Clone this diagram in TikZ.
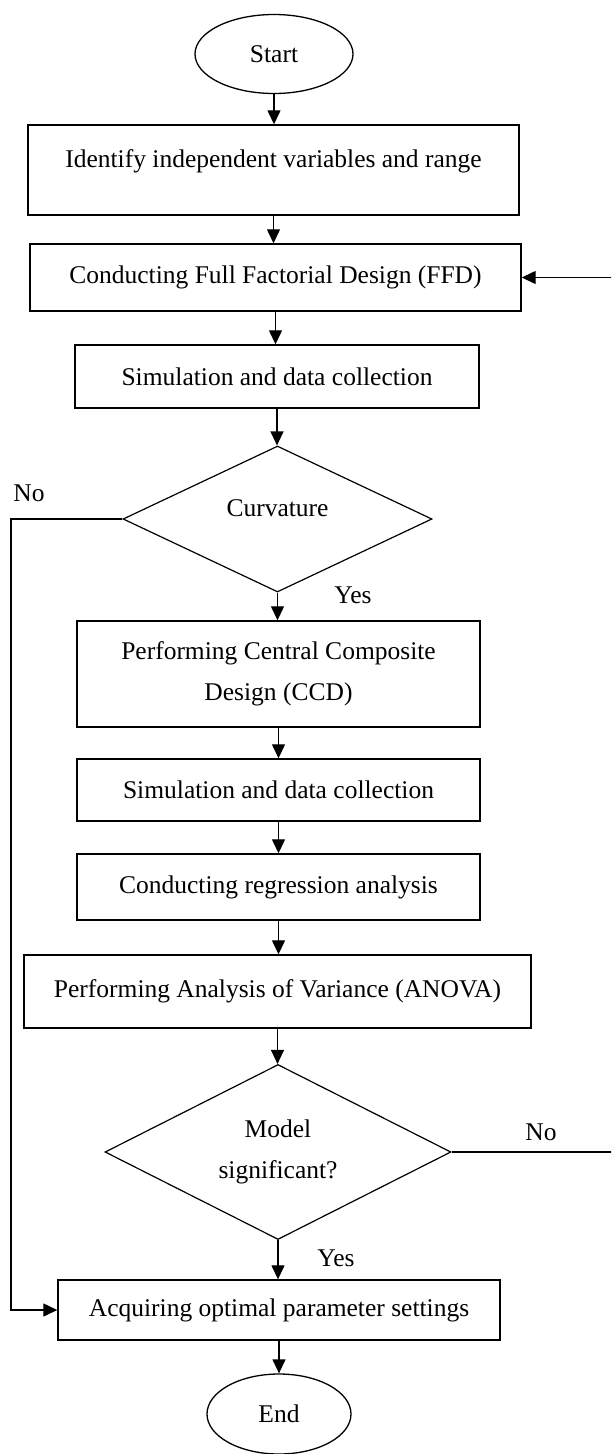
\documentclass[tikz,border=0pt]{standalone}
\usepackage{fontspec}
\setmainfont{Liberation Serif}
\usetikzlibrary{shapes.geometric,arrows.meta}
\begin{document}
\begin{tikzpicture}[x=1pt,y=-1pt,
  every node/.style={font=\fontsize{25.5}{41}\selectfont},
  proc/.style={draw, line width=1.4pt, rectangle, inner sep=0pt, align=center},
  term/.style={draw, line width=1.3pt, ellipse, inner sep=0pt},
  dec/.style={draw, line width=1.2pt, diamond, aspect=2, inner sep=0pt, align=center},
  lbl/.style={inner sep=0pt},
  arr/.style={line width=1.3pt, -{Triangle[length=14pt,width=13pt]}}
]
\useasboundingbox (0,0) rectangle (611,1454);
\clip (0,0) rectangle (611,1454);

\node[term, minimum width=158pt, minimum height=79pt] (start) at (274,54) {Start};
\node[proc, minimum width=491pt, minimum height=90pt, text height=17pt, text depth=23pt] (b1) at (273.5,170) {Identify independent variables and range};
\node[proc, minimum width=491pt, minimum height=67pt] (b2) at (275.5,277.5) {Conducting Full Factorial Design (FFD)};
\node[proc, minimum width=404pt, minimum height=63pt] (b3) at (277,376.5) {Simulation and data collection};
\node[dec, minimum width=309pt, minimum height=146pt, text height=17pt, text depth=23pt] (d1) at (277.5,519) {Curvature};
\node[proc, minimum width=403pt, minimum height=106pt] (ccd) at (278.5,674) {Performing Central Composite\\Design (CCD)};
\node[proc, minimum width=403pt, minimum height=62pt] (s2) at (278.5,790) {Simulation and data collection};
\node[proc, minimum width=403pt, minimum height=66pt] (reg) at (278.5,887) {Conducting regression analysis};
\node[proc, minimum width=507pt, minimum height=73pt] (anova) at (277.5,991.5) {Performing Analysis of Variance (ANOVA)};
\node[dec, minimum width=346pt, minimum height=175pt] (d2) at (278,1152) {Model\\significant?};
\node[proc, minimum width=442pt, minimum height=60pt] (acq) at (279,1310) {Acquiring optimal parameter settings};
\node[term, minimum width=144pt, minimum height=80pt] (end) at (279,1414) {End};

\node[lbl] (no1) at (29,493) {No};
\node[lbl] (yes1) at (353,595) {Yes};
\node[lbl] (no2) at (541,1132) {No};
\node[lbl] (yes2) at (336,1258) {Yes};

\coordinate (lc) at (11,0);
\coordinate (rc) at (616,0);

\draw[arr] (start.south) -- (start.south |- b1.north);
\draw[arr] (b1.south) -- (b1.south |- b2.north);
\draw[arr] (b2.south) -- (b2.south |- b3.north);
\draw[arr] (b3.south) -- (b3.south |- d1.north);
\draw[arr] (d1.south) -- (d1.south |- ccd.north);
\draw[arr] (ccd.south) -- (ccd.south |- s2.north);
\draw[arr] (s2.south) -- (s2.south |- reg.north);
\draw[arr] (reg.south) -- (reg.south |- anova.north);
\draw[arr] (anova.south) -- (anova.south |- d2.north);
\draw[arr] (d2.south) -- (d2.south |- acq.north);
\draw[arr] (acq.south) -- (acq.south |- end.north);
\draw[arr] (d1.west) -- (d1.west -| lc) |- (acq.west);
\draw[arr] (d2.east) -- (d2.east -| rc) |- (b2.east);
\end{tikzpicture}
\end{document}
